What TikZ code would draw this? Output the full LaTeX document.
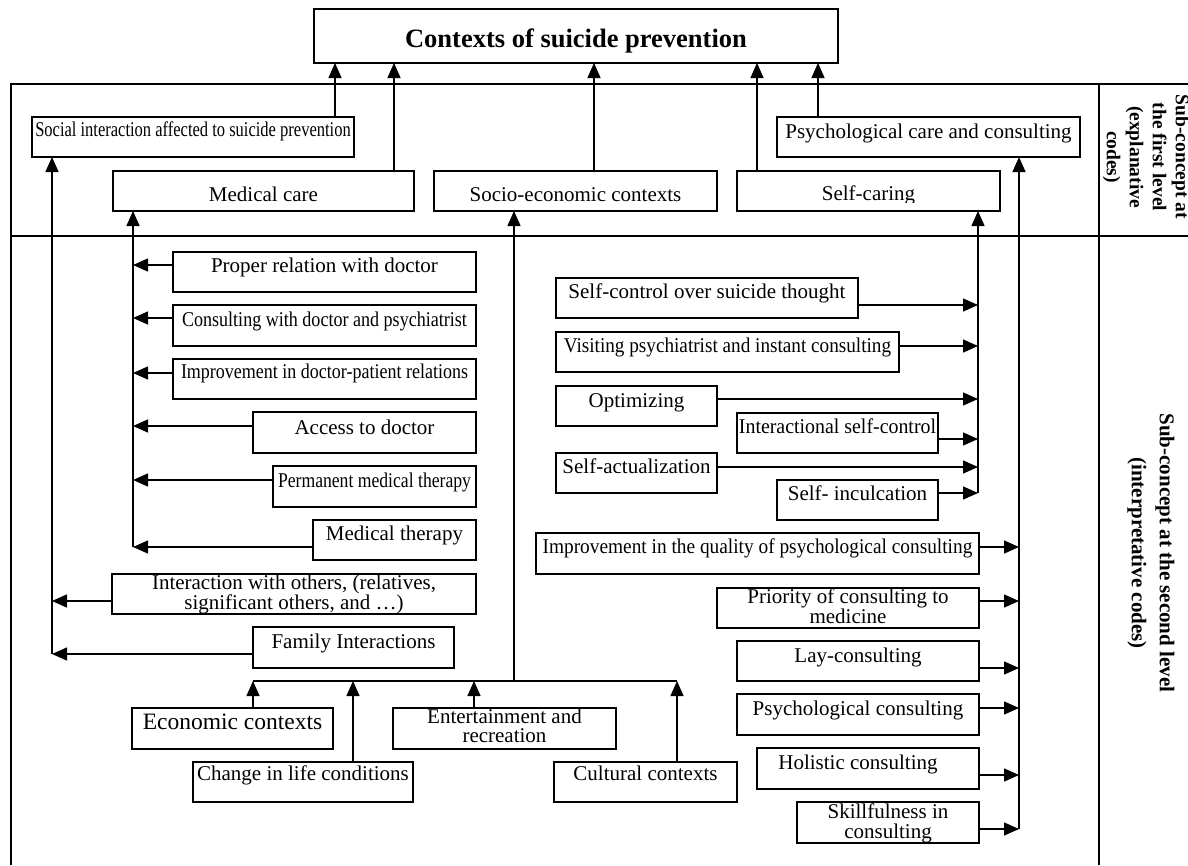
\documentclass[tikz,border=0pt]{standalone}
\usepackage{fontspec}
\setmainfont{Liberation Serif}
\usepackage{graphicx}
\usetikzlibrary{arrows.meta,calc}
\newcommand\twol[2]{\begin{tabular}[t]{@{}c@{}}#1\\#2\end{tabular}}
\newcommand\cnd[2]{\scalebox{#1}[1]{#2}}
\newcommand\fs{\fontsize{21}{19.5}\selectfont}
\newcommand\mkbox[7]{%
  \node[bx, minimum width={#4-#2}, minimum height={#5-#3}, anchor=north west] (#1) at (#2,#3) {};
  \node[tx] (#1t) at ($(#1.north)+(0,#6)$) {#7};
}
\tikzset{
  bx/.style={draw, line width=1.6pt, inner sep=0pt, outer sep=0pt, fill=white},
  tx/.style={anchor=base, inner sep=0pt, font=\fs},
  arr/.style={line width=1.4pt, -{Triangle[length=15pt,width=13pt]}},
  conn/.style={line width=1.4pt},
  frame/.style={line width=1.3pt},
  side/.style={rotate=-90, align=center, inner sep=0pt}
}
\begin{document}
\begin{tikzpicture}[x=1pt,y=-1pt]
\useasboundingbox (0,0) rectangle (1188,865);
% frame
\draw[frame] (1188,84) -- (11,84) -- (11,865);
\draw[frame] (11,236) -- (1188,236);
\draw[frame] (1099,84) -- (1099,865);
% title
\node[bx, minimum width=524, minimum height=54, anchor=north west] (title) at (314,9) {};
\node[tx, font=\bfseries\fontsize{26.5}{28}\selectfont] (titlet) at ($(title.north)+(0,38)$) {Contexts of suicide prevention};
% level 1
\mkbox{soc}{32}{117}{354}{157}{19}{\cnd{0.786}{Social interaction affected to suicide prevention}}
\mkbox{med}{113}{171}{414}{211}{30}{Medical care}
\mkbox{socio}{434}{171}{717}{211}{30}{Socio-economic contexts}
\node[bx, minimum width=263, minimum height=40, anchor=north west] (self) at (737,171) {};
\begin{scope}
\clip (737,171) rectangle (1000,202);
\node[tx] (selft) at ($(self.north)+(0,29)$) {Self-caring};
\end{scope}
\mkbox{psy}{777}{117}{1080}{157}{21}{Psychological care and consulting}
% level 2 left
\mkbox{prop}{173}{252}{476}{292}{20}{Proper relation with doctor}
\mkbox{cons}{173}{305}{476}{346}{21}{\cnd{0.86}{Consulting with doctor and psychiatrist}}
\mkbox{impd}{173}{359}{476}{399}{19}{\cnd{0.857}{Improvement in doctor-patient relations}}
\mkbox{acc}{253}{412}{476}{453}{22}{Access to doctor}
\mkbox{perm}{273}{466}{476}{507}{21}{\cnd{0.84}{Permanent medical therapy}}
\mkbox{medt}{313}{520}{476}{560}{20}{Medical therapy}
\mkbox{inter}{112}{574}{476}{614}{15}{\twol{Interaction with others, (relatives,}{significant others, and …)}}
\mkbox{fam}{253}{627}{454}{668}{21}{Family Interactions}
\mkbox{eco}{132}{708}{333}{749}{21}{\fontsize{23.5}{25}\selectfont Economic contexts}
\mkbox{chg}{193}{762}{413}{802}{18}{Change in life conditions}
\mkbox{ent}{393}{708}{616}{749}{15}{\twol{Entertainment and}{recreation}}
\mkbox{cult}{554}{762}{737}{802}{18}{Cultural contexts}
% level 2 right
\mkbox{sctl}{556}{278}{858}{318}{20}{Self-control over suicide thought}
\mkbox{visit}{556}{332}{899}{372}{20}{\cnd{0.914}{Visiting psychiatrist and instant consulting}}
\mkbox{opt}{556}{386}{717}{426}{21}{Optimizing}
\mkbox{intc}{737}{413}{938}{453}{20}{\cnd{0.947}{Interactional self-control}}
\mkbox{sact}{556}{453}{717}{493}{20}{Self-actualization}
\mkbox{sinc}{777}{480}{938}{520}{20}{Self- inculcation}
\mkbox{impq}{536}{533}{979}{574}{20}{\cnd{0.921}{Improvement in the quality of psychological consulting}}
\mkbox{prio}{717}{588}{979}{628}{15}{\twol{Priority of consulting to}{medicine}}
\mkbox{lay}{737}{641}{979}{681}{21}{Lay-consulting}
\mkbox{psyc}{737}{694}{979}{735}{21}{Psychological consulting}
\node[bx, minimum width=222, minimum height=41, anchor=north west] (hol) at (757,748) {};
\node[tx] (holt) at ($(hol.north)+(-10,21)$) {Holistic consulting};
\mkbox{skill}{797}{802}{979}{843}{16}{\twol{Skillfulness in}{consulting}}
% side labels
\node[side, font=\bfseries\fontsize{19.5}{23}\selectfont] (lab1) at (1146,157) {Sub-concept at\\the first level\\(explanative\\codes)};
\node[side, font=\bfseries\fontsize{21}{28}\selectfont] (lab2) at (1151,553) {Sub-concept at the second level\\(interpretative codes)};
% arrows to title
\draw[arr] (soc.north -| 335,0) -- (title.south -| 335,0);
\draw[arr] (med.north -| 394,0) -- (title.south -| 394,0);
\draw[arr] (socio.north -| 594,0) -- (title.south -| 594,0);
\draw[arr] (self.north -| 757,0) -- (title.south -| 757,0);
\draw[arr] (psy.north -| 818,0) -- (title.south -| 818,0);
% social interaction branch
\coordinate (xs) at (52,654);
\draw[arr] (xs) -- (xs |- soc.south);
\draw[arr] (inter.west |- 0,601) -- (xs |- 0,601);
\draw[arr] (fam.west |- 0,654) -- (xs);
% medical branch
\coordinate (xm) at (133,547);
\draw[arr] (xm) -- (xm |- med.south);
\draw[arr] (prop.west |- 0,265) -- (xm |- 0,265);
\draw[arr] (cons.west |- 0,318) -- (xm |- 0,318);
\draw[arr] (impd.west |- 0,373) -- (xm |- 0,373);
\draw[arr] (acc.west |- 0,426) -- (xm |- 0,426);
\draw[arr] (perm.west |- 0,480) -- (xm |- 0,480);
\draw[arr] (medt.west |- 0,547) -- (xm);
% socio-economic branch
\coordinate (xe) at (514,681);
\coordinate (bl) at (253,681);
\coordinate (br) at (677,681);
\draw[arr] (xe) -- (xe |- socio.south);
\draw[conn] (bl) -- (br);
\draw[arr] (eco.north -| bl) -- (bl);
\draw[arr] (chg.north -| 353,0) -- (bl -| 353,0);
\draw[arr] (ent.north -| 474,0) -- (bl -| 474,0);
\draw[arr] (cult.north -| br) -- (br);
% self-caring branch
\coordinate (xc) at (978,493);
\draw[arr] (xc) -- (xc |- self.south);
\draw[arr] (sctl.east |- 0,305) -- (xc |- 0,305);
\draw[arr] (visit.east |- 0,346) -- (xc |- 0,346);
\draw[arr] (opt.east |- 0,399) -- (xc |- 0,399);
\draw[arr] (intc.east |- 0,439) -- (xc |- 0,439);
\draw[arr] (sact.east |- 0,467) -- (xc |- 0,467);
\draw[arr] (sinc.east |- 0,493) -- (xc);
% psychological branch
\coordinate (xp) at (1019,829);
\draw[arr] (xp) -- (xp |- psy.south);
\draw[arr] (impq.east |- 0,547) -- (xp |- 0,547);
\draw[arr] (prio.east |- 0,601) -- (xp |- 0,601);
\draw[arr] (lay.east |- 0,668) -- (xp |- 0,668);
\draw[arr] (psyc.east |- 0,708) -- (xp |- 0,708);
\draw[arr] (hol.east |- 0,775) -- (xp |- 0,775);
\draw[arr] (skill.east |- 0,829) -- (xp);
\end{tikzpicture}
\end{document}
